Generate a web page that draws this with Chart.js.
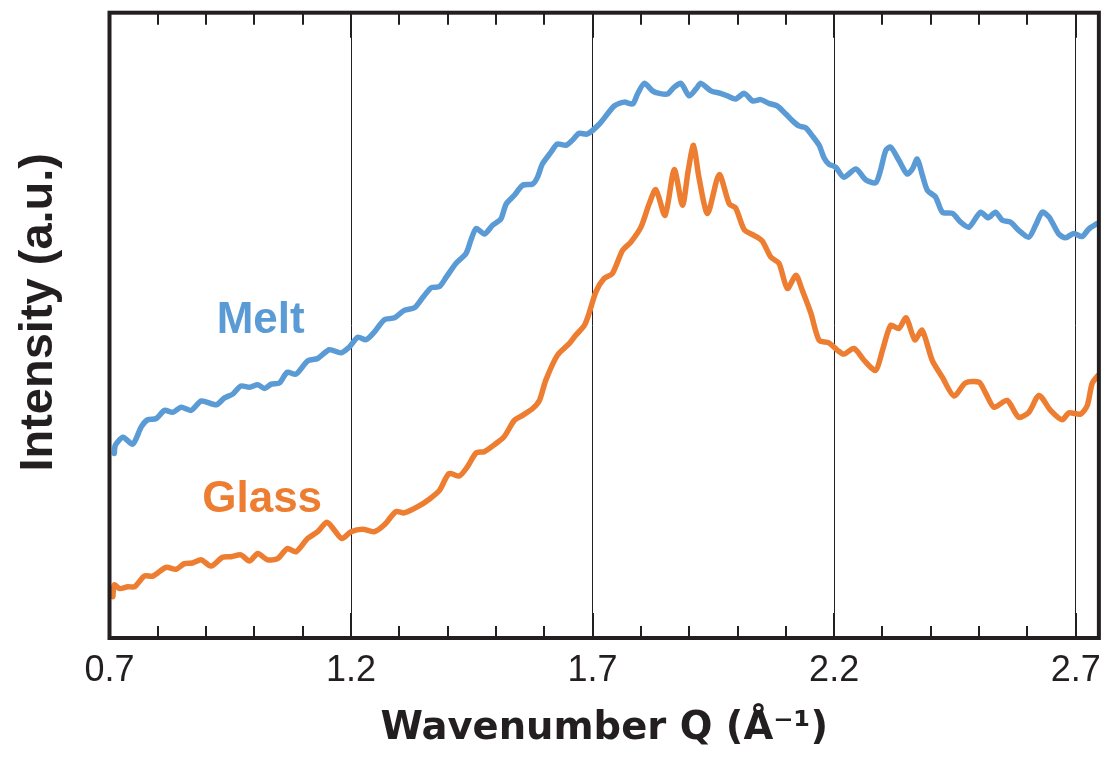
<!DOCTYPE html>
<html><head><meta charset="utf-8">
<script src="https://cdn.jsdelivr.net/npm/chart.js@4.4.1/dist/chart.umd.min.js"></script>
<style>html,body{margin:0;padding:0;background:#fff;overflow:hidden}</style>
</head><body>
<canvas id="c" width="1112" height="763"></canvas>
<script>
// ---- data ----
const seriesNames = ['Melt', 'Glass'];
const meltQ = [0.710,0.712,0.728,0.748,0.766,0.779,0.797,0.814,0.831,0.848,0.869,0.890,0.921,0.938,0.955,0.972,0.990,1.007,1.021,1.035,1.052,1.068,1.086,1.110,1.131,1.155,1.179,1.196,1.214,1.231,1.248,1.269,1.290,1.310,1.331,1.348,1.366,1.383,1.397,1.417,1.438,1.448,1.459,1.476,1.493,1.510,1.521,1.538,1.555,1.576,1.586,1.596,1.614,1.627,1.645,1.658,1.672,1.689,1.714,1.745,1.765,1.783,1.793,1.807,1.824,1.838,1.855,1.869,1.883,1.900,1.914,1.924,1.945,1.965,1.979,1.996,2.014,2.031,2.048,2.065,2.082,2.100,2.114,2.127,2.141,2.155,2.169,2.179,2.189,2.203,2.220,2.245,2.265,2.286,2.296,2.307,2.317,2.334,2.351,2.362,2.372,2.382,2.393,2.410,2.424,2.445,2.462,2.479,2.503,2.519,2.534,2.548,2.565,2.582,2.603,2.617,2.631,2.645,2.665,2.679,2.696,2.713,2.727,2.745];
const meltI = [29.5,30.8,32.1,31.0,33.8,34.9,35.1,36.4,36.1,36.9,36.4,37.9,37.3,38.4,39.0,40.3,40.1,40.5,39.9,40.6,40.8,42.5,42.2,44.3,44.7,46.1,45.6,46.5,48.1,47.7,48.9,50.9,51.2,52.4,52.8,54.4,56.0,56.2,57.7,59.9,61.5,63.6,65.5,64.6,66.0,67.0,69.4,70.8,72.4,72.6,73.7,75.8,77.7,79.0,78.8,79.6,80.7,80.6,82.2,85.1,85.7,85.4,87.0,88.7,87.5,87.1,87.0,88.1,88.7,86.7,87.8,88.7,87.5,87.1,86.7,86.2,87.1,85.9,86.1,85.5,85.1,83.8,82.7,81.9,81.6,80.3,78.8,76.8,75.8,75.3,73.7,75.0,73.3,72.8,74.8,78.0,78.5,76.4,74.2,75.0,76.6,74.2,71.6,70.5,68.1,67.9,66.5,65.7,68.1,67.2,68.1,66.8,66.5,65.2,64.1,66.0,68.1,67.3,64.6,64.0,64.7,64.2,65.4,66.3];
const glassQ = [0.707,0.710,0.721,0.738,0.752,0.772,0.790,0.817,0.838,0.855,0.872,0.890,0.910,0.934,0.952,0.972,0.990,1.007,1.027,1.048,1.068,1.086,1.110,1.131,1.150,1.165,1.181,1.200,1.224,1.248,1.269,1.293,1.310,1.338,1.362,1.383,1.403,1.424,1.441,1.459,1.476,1.500,1.517,1.538,1.555,1.576,1.590,1.603,1.627,1.652,1.665,1.683,1.693,1.707,1.724,1.741,1.762,1.779,1.800,1.817,1.831,1.850,1.869,1.886,1.898,1.909,1.920,1.938,1.962,1.983,1.996,2.014,2.034,2.051,2.069,2.086,2.103,2.121,2.134,2.152,2.169,2.189,2.207,2.220,2.241,2.262,2.286,2.300,2.317,2.334,2.349,2.367,2.382,2.403,2.424,2.448,2.472,2.500,2.514,2.531,2.558,2.582,2.603,2.624,2.648,2.672,2.686,2.710,2.724,2.734,2.745];
const glassI = [6.6,8.5,7.9,8.2,8.2,9.9,9.9,11.3,11.0,11.9,12.0,12.5,11.5,12.9,13.0,13.3,12.3,13.5,12.5,12.7,14.3,13.8,15.9,17.0,18.5,17.3,15.9,17.0,17.4,17.0,18.1,20.2,20.0,21.0,22.2,23.6,26.3,25.9,27.4,29.6,29.8,31.1,32.2,34.8,35.6,36.7,38.0,41.2,45.2,47.1,48.4,50.0,52.0,55.4,57.5,58.3,62.0,63.3,65.7,69.4,71.7,67.6,74.9,69.2,74.8,78.8,73.7,67.9,74.1,69.4,68.8,65.3,64.4,63.5,60.9,59.9,55.9,58.0,55.6,51.9,47.6,47.2,46.0,45.4,46.3,44.4,42.8,46.0,50.0,49.5,51.2,47.7,49.2,44.4,41.7,38.7,40.8,40.9,39.1,36.9,38.0,35.3,36.1,38.8,36.4,34.9,36.0,35.8,37.2,40.7,41.9];
const tickValues = [0.7, 1.2, 1.7, 2.2, 2.7];
const tickLabels = ['0.7', '1.2', '1.7', '2.2', '2.7'];
const xTitle = 'Wavenumber Q (Å⁻¹)';
const yTitle = '  Intensity (a.u.)';

// ---- styling ----
const FONT = '"Liberation Sans", Arial, Helvetica, sans-serif';
const WIDE = '"DejaVu Sans", "Liberation Sans", Arial, sans-serif';
const INK = '#231f20';
const COLORS = ['#5B9BD5', '#ED7D31'];

const toPts = (q, v) => q.map((x, i) => ({x, y: v[i]}));

const frameAndTicks = {
  id: 'frameAndTicks',
  afterDatasetsDraw(chart) {
    const {ctx, chartArea: a, scales: {x, y}} = chart;
    ctx.save();
    ctx.strokeStyle = INK;
    ctx.lineWidth = 2;
    for (let k = 0; ; k++) {
      const v = 0.7 + k * 0.1;
      if (v > x.max + 1e-9) break;
      const px = Math.round(x.getPixelForValue(v));
      const len = (k % 5 === 0) ? 25 : 12;
      ctx.beginPath();
      ctx.moveTo(px, a.bottom); ctx.lineTo(px, a.bottom - len);
      ctx.moveTo(px, a.top); ctx.lineTo(px, a.top + len);
      ctx.stroke();
    }
    ctx.lineWidth = 4;
    ctx.strokeRect(a.left, a.top, a.right - a.left, a.bottom - a.top);
    // series labels
    ctx.font = 'bold 44px ' + FONT;
    ctx.textAlign = 'center';
    ctx.textBaseline = 'alphabetic';
    const anchors = [[1.013, 48.7], [1.016, 20.2]];
    seriesNames.forEach((name, i) => {
      ctx.fillStyle = COLORS[i];
      ctx.fillText(name, x.getPixelForValue(anchors[i][0]), y.getPixelForValue(anchors[i][1]));
    });
    ctx.restore();
  }
};

new Chart(document.getElementById('c'), {
  type: 'line',
  data: {
    datasets: [
      {label: seriesNames[0], data: toPts(meltQ, meltI), borderColor: COLORS[0]},
      {label: seriesNames[1], data: toPts(glassQ, glassI), borderColor: COLORS[1]}
    ]
  },
  options: {
    responsive: false,
    animation: false,
    devicePixelRatio: 1,
    parsing: false,
    elements: {
      line: {borderWidth: 5.5, tension: 0.25, fill: false, borderJoinStyle: 'round', borderCapStyle: 'round'},
      point: {radius: 0}
    },
    layout: {padding: {left: 0, top: 12.7, right: 12.3, bottom: 0}},
    plugins: {legend: {display: false}, tooltip: {enabled: false}},
    scales: {
      x: {
        type: 'linear', min: 0.7, max: 2.748,
        afterBuildTicks: s => { s.ticks = tickValues.map(v => ({value: v})); },
        afterFit: s => { s.height = 125; },
        border: {display: false},
        grid: {
          drawTicks: false, lineWidth: 1,
          color: c => (c.tick && c.tick.value > 0.75) ? INK : 'rgba(0,0,0,0)'
        },
        ticks: {
          autoSkip: false, maxRotation: 0, padding: 11, color: INK,
          font: {family: FONT, size: 36},
          callback: (v, i) => tickLabels[i]
        },
        title: {
          display: true, text: xTitle, color: INK,
          font: {family: WIDE, size: 38.5, weight: 'bold'},
          padding: {top: 0, bottom: 11}
        }
      },
      y: {
        type: 'linear', min: 0, max: 100,
        afterFit: s => { s.width = 109.5; },
        border: {display: false},
        grid: {display: false, drawTicks: false},
        ticks: {display: false},
        title: {
          display: true, text: yTitle, color: INK,
          font: {family: FONT, size: 47, weight: 'bold'},
          padding: {top: 11, bottom: 0}
        }
      }
    }
  },
  plugins: [frameAndTicks]
});
</script>
</body></html>
